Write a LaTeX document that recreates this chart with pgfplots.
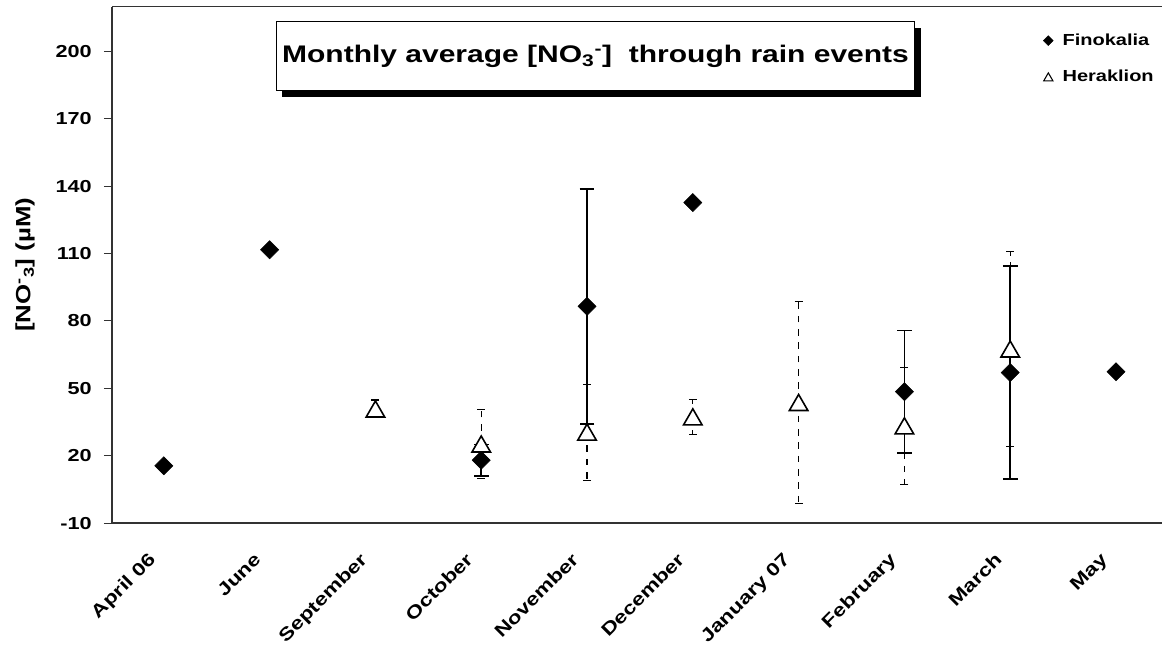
\documentclass[border=0pt]{standalone}
\usepackage{pgfplots}
\pgfplotsset{compat=1.18}
\usepackage{fontspec}
\setmainfont{Liberation Sans}[FakeStretch=1.25]
\usetikzlibrary{shadows}

\pgfdeclareplotmark{xtri}{%
  \pgfpathmoveto{\pgfqpoint{0pt}{\pgfplotmarksize}}%
  \pgfpathlineto{\pgfqpoint{1.1547\pgfplotmarksize}{-\pgfplotmarksize}}%
  \pgfpathlineto{\pgfqpoint{-1.1547\pgfplotmarksize}{-\pgfplotmarksize}}%
  \pgfpathclose
  \pgfusepathqfillstroke
}

\begin{document}
\begin{tikzpicture}
\useasboundingbox (-84pt,-93.75pt) rectangle (787.5pt,392.3pt);
\begin{axis}[
  at={(0pt,0pt)}, anchor=south west,
  scale only axis, width=787.5pt, height=387.4pt,
  xmin=-0.49, xmax=9.435, ymin=-10, ymax=220,
  axis x line*=box, axis y line*=left,
  axis line style={line width=1pt, black!80},
  xtick={0,1,2,3,4,5,6,7,8,9},
  xticklabels={April 06,June,September,October,November,December,January 07,February,March,May},
  x tick style={draw=none},
  ytick={-10,20,50,80,110,140,170,200},
  yticklabels={-10,20,50,80,110,140,170,200},
  tick align=outside,
  major tick length=6pt,
  y tick style={line width=0.8pt, black!80},
  yticklabel style={font=\bfseries\fontsize{13}{15}\selectfont, anchor=east, inner sep=0pt, xshift=-9pt},
  xticklabel style={font=\bfseries\fontsize{13.5}{15}\selectfont, rotate=45, anchor=north east, inner sep=0pt, xshift=-19.6pt, yshift=-2pt},
  ylabel={[NO\textsuperscript{-}\textsubscript{3}] (µM)},
  ylabel style={font=\bfseries\fontsize{15.5}{17}\selectfont, at={(axis description cs:-0.0829,0.5)}, anchor=center},
  legend style={at={(rel axis cs:0.883,0.958)}, anchor=north west, draw=none, fill=none,
    font=\bfseries\fontsize{12}{14}\selectfont, row sep=13pt, column sep=5pt},
  legend cell align=left,
  clip=false,
]
% Finokalia error bars
\addplot[only marks, mark=none, forget plot,
  error bars/.cd, y dir=both, y explicit,
  error bar style={draw=black, line width=1.1pt, solid},
  error mark options={rotate=90, mark size=5.5pt, line width=1.1pt, draw=black}]
  coordinates {(3,18) +- (0,7) (4,86.5) +- (0,52.3) (7,48.5) +- (0,27.3) (8,57) +- (0,47.4)};
% Heraklion error bars
\addplot[only marks, mark=none, forget plot,
  error bars/.cd, y dir=both, y explicit,
  error bar style={draw=black, line width=0.8pt, dash pattern=on 5pt off 5pt},
  error mark options={rotate=90, mark size=3pt, line width=0.8pt, draw=black, solid}]
  coordinates {(2,40.8) +- (0,4) (3,25.2) +- (0,15.5) (4,30.5) +- (0,21.4) (5,37.3) +- (0,7.8)
               (6,43.7) +- (0,44.9) (7,33.3) +- (0,26.1) (8,67.5) +- (0,43.5)};
% Finokalia markers
\addplot[only marks, mark=square*, mark size=4.8pt,
  mark options={rotate=45, fill=black, draw=black, line width=0.4pt},
  legend image code/.code={\draw[mark=square*, mark size=2.6pt, mark options={rotate=45, fill=black, draw=black}] plot coordinates {(0cm,0cm)};}]
  coordinates {(0,15.5) (1,111.7) (3,18) (4,86.5) (5,132.7) (7,48.5) (8,57) (9,57.4)};
\addlegendentry{Finokalia}
% Heraklion markers
\addplot[only marks, mark=xtri, mark size=6pt,
  mark options={fill=white, draw=black, line width=1.2pt},
  legend image code/.code={\draw[mark=xtri, mark size=3pt, mark options={fill=white, draw=black, line width=0.8pt}] plot coordinates {(0cm,0cm)};}]
  coordinates {(2,40.8) (3,25.2) (4,30.5) (5,37.3) (6,43.7) (7,33.3) (8,67.5)};
\addlegendentry{Heraklion}
\node[draw=black, line width=0.75pt, fill=white, minimum width=479pt, minimum height=51.75pt,
  drop shadow={shadow xshift=4.5pt, shadow yshift=-4.5pt, fill=black, opacity=1},
  font=\bfseries\fontsize{18}{20}\selectfont]
  at (rel axis cs:0.4605,0.9038) {Monthly average [NO\textsubscript{3}\textsuperscript{-}]\ \ through rain events};
\end{axis}
\end{tikzpicture}
\end{document}
